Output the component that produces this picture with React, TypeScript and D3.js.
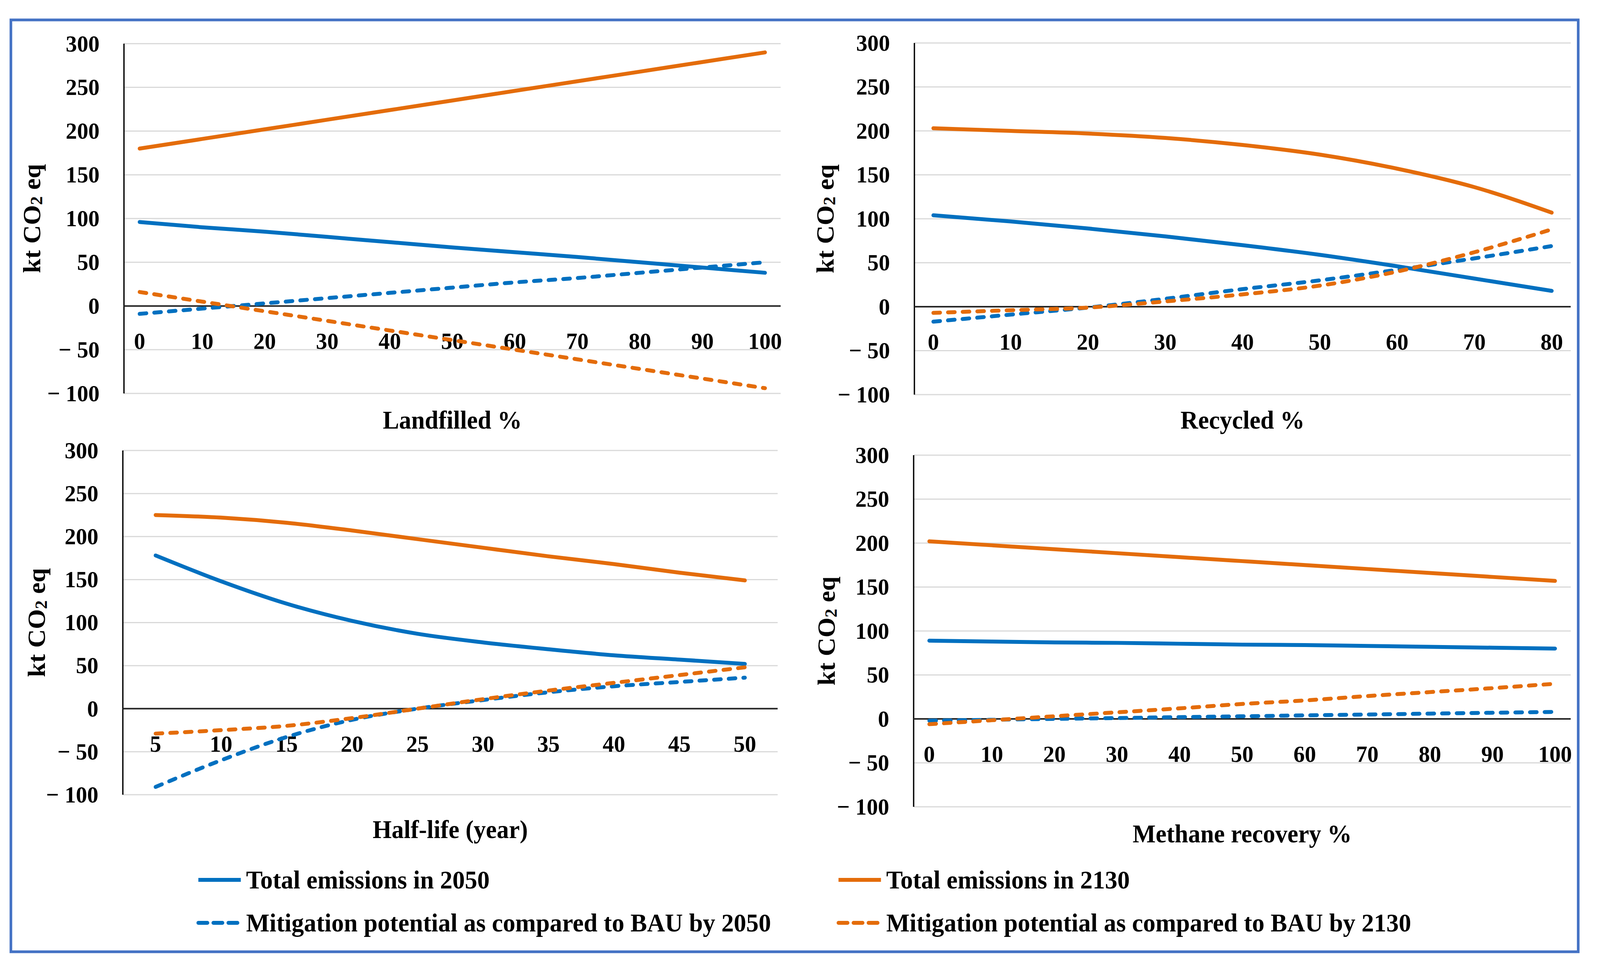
import { line, curveMonotoneX, scaleLinear, scalePoint } from "d3";

// data
const LANDFILLED_X = [0, 10, 20, 30, 40, 50, 60, 70, 80, 90, 100];
const LANDFILLED_TOTAL_2050 = [96, 90, 85, 79, 73, 67, 61.5, 56, 50, 44, 38];
const LANDFILLED_TOTAL_2130 = [180, 191, 202, 213, 224, 235, 246, 257, 268, 279, 290];
const LANDFILLED_MIT_2050 = [-9, -3, 3, 9, 15, 21, 27, 32, 38, 44, 50];
const LANDFILLED_MIT_2130 = [16, 5, -6, -17, -28, -39, -50, -61, -72, -83, -94];

const RECYCLED_X = [0, 10, 20, 30, 40, 50, 60, 70, 80];
const RECYCLED_TOTAL_2050 = [104, 97, 89, 80, 70, 59, 46, 32, 18];
const RECYCLED_TOTAL_2130 = [203, 200, 197, 192, 184, 173, 157, 136, 107];
const RECYCLED_MIT_2050 = [-17, -9, -1, 9, 20, 30, 42, 55, 69];
const RECYCLED_MIT_2130 = [-7, -4, -1, 6, 14, 24, 40, 62, 88];

const HALFLIFE_X = [5, 10, 15, 20, 25, 30, 35, 40, 45, 50];
const HALFLIFE_TOTAL_2050 = [178, 148, 122, 102, 87, 77, 69, 62, 57, 52];
const HALFLIFE_TOTAL_2130 = [225, 222, 216, 207, 197, 187, 177, 168, 158, 149];
const HALFLIFE_MIT_2050 = [-91, -60, -33, -13, 0, 10, 19, 26, 31, 36];
const HALFLIFE_MIT_2130 = [-29, -25, -20, -11, 0, 11, 21, 30, 39, 48];

const METHANE_X = [0, 10, 20, 30, 40, 50, 60, 70, 80, 90, 100];
const METHANE_TOTAL_2050 = [89, 88, 87, 86.5, 85.5, 84.5, 84, 83, 82, 81, 80];
const METHANE_TOTAL_2130 = [202, 197.5, 193, 188.5, 184, 179.5, 175, 170.5, 166, 161.5, 157];
const METHANE_MIT_2050 = [-2, -1, 0, 1, 2, 3, 4, 5, 6, 7, 8];
const METHANE_MIT_2130 = [-6, -1.5, 3, 7.5, 12, 17, 21, 26, 30.5, 35, 40];

const Y_DOMAIN = [-100, 300];

const SERIES_NAMES = [
  "Total emissions in 2050",
  "Total emissions in 2130",
  "Mitigation potential as compared to BAU by 2050",
  "Mitigation potential as compared to BAU by 2130",
];

const BLUE = "#0070C0";
const ORANGE = "#E46C0A";
const seriesStyle = [
  { color: BLUE, dashed: false },
  { color: ORANGE, dashed: false },
  { color: BLUE, dashed: true },
  { color: ORANGE, dashed: true },
];

const FONT = "'Liberation Serif', 'Times New Roman', serif";
const W = 4259;
const H = 2475;

const panels = [
  {
    title: "Landfilled %",
    x: LANDFILLED_X,
    series: [LANDFILLED_TOTAL_2050, LANDFILLED_TOTAL_2130, LANDFILLED_MIT_2050, LANDFILLED_MIT_2130],
    left: 330, right: 2078, top: 111.7, bottom: 1007, pad: 0.25, titleY: 1097, yTitleX: 85,
  },
  {
    title: "Recycled %",
    x: RECYCLED_X,
    series: [RECYCLED_TOTAL_2050, RECYCLED_TOTAL_2130, RECYCLED_MIT_2050, RECYCLED_MIT_2130],
    left: 2434, right: 4181, top: 110, bottom: 1010, pad: 0.245, titleY: 1097, yTitleX: 2196,
  },
  {
    title: "Half-life (year)",
    x: HALFLIFE_X,
    series: [HALFLIFE_TOTAL_2050, HALFLIFE_TOTAL_2130, HALFLIFE_MIT_2050, HALFLIFE_MIT_2130],
    left: 327, right: 2070, top: 1153, bottom: 2034, pad: 0.5, titleY: 2145, yTitleX: 97,
  },
  {
    title: "Methane recovery %",
    x: METHANE_X,
    series: [METHANE_TOTAL_2050, METHANE_TOTAL_2130, METHANE_MIT_2050, METHANE_MIT_2130],
    left: 2432, right: 4181, top: 1165, bottom: 2065, pad: 0.25, titleY: 2156, yTitleX: 2200,
  },
];

const fmt = (v: number) => (v < 0 ? `\u2212 ${Math.abs(v)}` : `${v}`);

const Panel = ({ p }: { p: (typeof panels)[number] }) => {
  const x = scalePoint<number>().domain(p.x).range([p.left, p.right]).padding(p.pad);
  const y = scaleLinear().domain(Y_DOMAIN).range([p.bottom, p.top]);
  const ticks = y.ticks(8);
  const y0 = y(0);

  return (
    <g>
      {ticks
        .filter((t) => t !== 0)
        .map((t) => (
          <line key={t} x1={p.left} x2={p.right} y1={y(t)} y2={y(t)} stroke="#D9D9D9" strokeWidth={3} />
        ))}
      <line x1={p.left} x2={p.left} y1={p.top} y2={p.bottom} stroke="#000" strokeWidth={3.5} />
      <line x1={p.left} x2={p.right} y1={y0} y2={y0} stroke="#262626" strokeWidth={4} />
      {ticks.map((t) => (
        <text
          key={t}
          x={p.left - 65}
          y={y(t)}
          textAnchor="end"
          dominantBaseline="central"
          fontFamily={FONT}
          fontWeight="bold"
          fontSize={60}
        >
          {fmt(t)}
        </text>
      ))}
      {p.x.map((c) => (
        <text key={c} x={x(c)} y={y0 + 110} textAnchor="middle" fontFamily={FONT} fontWeight="bold" fontSize={60}>
          {c}
        </text>
      ))}
      {p.series.map((vals, i) => {
        const path = line<number>()
          .x((_, j) => x(p.x[j]) as number)
          .y((d) => y(d))
          .curve(curveMonotoneX)(vals);
        return (
          <path
            key={i}
            d={path ?? ""}
            fill="none"
            stroke={seriesStyle[i].color}
            strokeWidth={10}
            strokeLinecap="round"
            strokeLinejoin="round"
            strokeDasharray={seriesStyle[i].dashed ? "18 21" : undefined}
          />
        );
      })}
      <text
        x={(p.left + p.right) / 2}
        y={p.titleY}
        textAnchor="middle"
        fontFamily={FONT}
        fontWeight="bold"
        fontSize={65}
      >
        {p.title}
      </text>
      <text
        transform={`translate(${p.yTitleX},${(p.top + p.bottom) / 2}) rotate(-90)`}
        textAnchor="middle"
        dominantBaseline="central"
        fontFamily={FONT}
        fontWeight="bold"
        fontSize={66}
      >
        kt CO
        <tspan dy={12} fontSize={45}>
          2
        </tspan>
        <tspan dy={-12}> eq</tspan>
      </text>
    </g>
  );
};

const legendPos = [
  { x: 523, y: 2252 },
  { x: 2227, y: 2252 },
  { x: 523, y: 2362 },
  { x: 2227, y: 2362 },
];

export default function App() {
  return (
    <svg
      viewBox={`0 0 ${W} ${H}`}
      preserveAspectRatio="none"
      style={{ position: "fixed", left: 0, top: 0, width: "100%", height: "100%", background: "#fff" }}
    >
      <rect x={0} y={0} width={W} height={H} fill="#fff" />
      <rect x={29} y={51} width={4172} height={2385} fill="none" stroke="#4472C4" strokeWidth={7} />
      {panels.map((p) => (
        <Panel key={p.title} p={p} />
      ))}
      {SERIES_NAMES.map((name, i) => (
        <g key={name}>
          <line
            x1={legendPos[i].x + 5}
            x2={legendPos[i].x + 118}
            y1={legendPos[i].y}
            y2={legendPos[i].y}
            stroke={seriesStyle[i].color}
            strokeWidth={10}
            strokeLinecap={seriesStyle[i].dashed ? "round" : "butt"}
            strokeDasharray={seriesStyle[i].dashed ? "24 16" : undefined}
          />
          <text
            x={legendPos[i].x + 132}
            y={legendPos[i].y}
            dominantBaseline="central"
            fontFamily={FONT}
            fontWeight="bold"
            fontSize={66}
          >
            {name}
          </text>
        </g>
      ))}
    </svg>
  );
}
